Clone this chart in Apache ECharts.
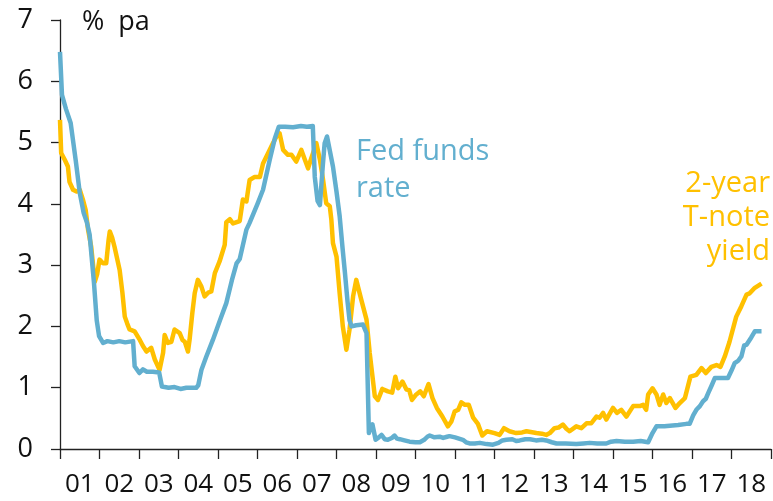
<!DOCTYPE html>
<html lang="en">
   <head>
      <meta charset="utf-8">
      <title>Fed funds rate and 2-year T-note yield</title>
      <script type="text/javascript" src="https://cdn.jsdelivr.net/npm/echarts/dist/echarts.min.js"></script>
      <style>
         html, body { margin: 0; padding: 0; background: #fff; }
      </style>
   </head>
   <body>
    <div id="main" style="width:773px; height:501px;"></div>
    <script>
        // year labels under the axis (one band per year)
        var yearLabels = ['01','02','03','04','05','06','07','08','09','10','11','12','13','14','15','16','17','18'];
        var yTicks = [0, 1, 2, 3, 4, 5, 6, 7];

        // Fed funds rate, % pa (decimal year, value)
        var fedDates = [2001.00,2001.05,2001.15,2001.27,2001.40,2001.50,2001.60,2001.68,2001.75,2001.86,2001.93,2001.99,
            2002.09,2002.20,2002.35,2002.50,2002.65,2002.85,2002.89,2003.01,2003.10,2003.20,2003.35,2003.51,2003.58,
            2003.75,2003.90,2004.05,2004.20,2004.45,2004.50,2004.58,2004.70,2004.87,2005.05,2005.21,2005.35,2005.47,
            2005.55,2005.72,2005.80,2006.00,2006.14,2006.31,2006.44,2006.54,2006.70,2006.90,2007.10,2007.25,2007.40,
            2007.45,2007.52,2007.58,2007.65,2007.70,2007.76,2007.91,2008.00,2008.08,2008.15,2008.21,2008.28,2008.33,
            2008.38,2008.50,2008.67,2008.76,2008.82,2008.86,2008.91,2008.99,2009.07,2009.14,2009.22,2009.30,2009.40,
            2009.47,2009.53,2009.60,2009.72,2009.85,2010.00,2010.11,2010.22,2010.30,2010.36,2010.48,2010.61,2010.70,
            2010.74,2010.80,2010.86,2011.00,2011.10,2011.20,2011.28,2011.37,2011.50,2011.63,2011.80,2011.96,2012.10,
            2012.20,2012.30,2012.45,2012.55,2012.64,2012.78,2012.90,2013.05,2013.20,2013.31,2013.45,2013.57,2013.80,
            2014.07,2014.25,2014.41,2014.60,2014.83,2014.95,2015.09,2015.30,2015.51,2015.70,2015.89,2016.00,2016.10,
            2016.30,2016.44,2016.65,2016.86,2016.94,2017.03,2017.11,2017.20,2017.28,2017.35,2017.41,2017.50,2017.58,
            2017.75,2017.91,2018.00,2018.08,2018.17,2018.25,2018.32,2018.38,2018.50,2018.59,2018.76];
        var fedRates = [6.48,5.78,5.55,5.32,4.70,4.18,3.85,3.70,3.50,2.71,2.10,1.84,
            1.73,1.76,1.74,1.76,1.74,1.76,1.35,1.24,1.30,1.26,1.26,1.25,1.02,
            1.00,1.01,0.98,1.00,1.00,1.04,1.29,1.50,1.78,2.10,2.38,2.75,3.03,
            3.10,3.58,3.69,4.00,4.23,4.72,5.07,5.26,5.26,5.25,5.27,5.26,5.27,
            4.44,4.05,3.98,4.60,4.99,5.10,4.61,4.20,3.80,3.30,2.90,2.40,2.10,
            2.00,2.02,2.03,1.89,0.26,0.35,0.40,0.15,0.19,0.23,0.16,0.15,0.18,
            0.22,0.17,0.16,0.14,0.12,0.11,0.11,0.15,0.20,0.22,0.19,0.20,0.18,
            0.15,0.20,0.21,0.19,0.17,0.15,0.11,0.09,0.09,0.10,0.08,0.07,0.10,
            0.14,0.15,0.16,0.13,0.14,0.16,0.16,0.14,0.15,0.14,0.11,0.09,0.09,
            0.08,0.09,0.10,0.09,0.09,0.12,0.13,0.12,0.12,0.13,0.11,0.26,0.37,
            0.37,0.38,0.39,0.41,0.41,0.55,0.64,0.70,0.78,0.82,0.91,1.04,1.16,
            1.16,1.16,1.28,1.40,1.44,1.51,1.69,1.70,1.82,1.92,1.92];

        // 2-year T-note yield, % pa
        var noteDates = [2001.00,2001.03,2001.12,2001.20,2001.24,2001.33,2001.42,2001.50,2001.58,2001.65,2001.71,2001.79,
            2001.88,2001.94,2002.00,2002.09,2002.17,2002.23,2002.26,2002.32,2002.38,2002.51,2002.58,2002.64,2002.70,
            2002.76,2002.89,2003.02,2003.10,2003.19,2003.31,2003.40,2003.52,2003.61,2003.65,2003.73,2003.82,2003.90,
            2004.03,2004.10,2004.16,2004.24,2004.28,2004.35,2004.41,2004.49,2004.58,2004.66,2004.75,2004.83,2004.92,
            2005.04,2005.17,2005.21,2005.30,2005.38,2005.55,2005.63,2005.72,2005.80,2005.93,2006.06,2006.14,2006.27,
            2006.39,2006.48,2006.56,2006.65,2006.77,2006.86,2006.98,2007.11,2007.20,2007.28,2007.36,2007.49,2007.58,
            2007.66,2007.74,2007.83,2007.87,2007.91,2008.00,2008.08,2008.16,2008.25,2008.33,2008.42,2008.50,2008.63,
            2008.76,2008.84,2008.97,2009.05,2009.16,2009.30,2009.41,2009.49,2009.56,2009.67,2009.77,2009.84,2009.91,
            2010.02,2010.12,2010.21,2010.33,2010.43,2010.54,2010.68,2010.82,2010.91,2010.99,2011.08,2011.16,2011.25,
            2011.35,2011.46,2011.58,2011.69,2011.81,2012.00,2012.13,2012.24,2012.38,2012.55,2012.70,2012.81,2013.06,
            2013.20,2013.31,2013.40,2013.52,2013.62,2013.73,2013.82,2013.90,2014.07,2014.20,2014.33,2014.45,2014.58,
            2014.66,2014.75,2014.83,2015.00,2015.10,2015.21,2015.34,2015.51,2015.68,2015.76,2015.84,2015.89,2016.00,
            2016.10,2016.18,2016.27,2016.35,2016.44,2016.58,2016.69,2016.82,2016.96,2017.11,2017.24,2017.35,2017.49,
            2017.62,2017.72,2017.83,2017.95,2018.12,2018.25,2018.38,2018.46,2018.59,2018.76];
        var noteYields = [5.37,4.83,4.72,4.61,4.36,4.23,4.20,4.23,4.07,3.90,3.58,3.30,
            2.73,2.85,3.09,3.03,3.03,3.41,3.55,3.45,3.30,2.92,2.55,2.16,2.05,
            1.95,1.92,1.78,1.68,1.59,1.65,1.46,1.29,1.57,1.86,1.73,1.75,1.95,
            1.89,1.78,1.75,1.59,1.78,2.22,2.54,2.76,2.65,2.49,2.55,2.57,2.87,
            3.06,3.33,3.70,3.75,3.68,3.72,4.07,4.04,4.39,4.44,4.44,4.66,4.83,
            4.99,5.10,5.15,4.88,4.80,4.80,4.69,4.88,4.72,4.58,4.74,4.99,4.72,
            4.39,4.01,3.96,3.74,3.36,3.14,2.54,2.00,1.62,1.95,2.49,2.76,2.43,
            2.11,1.57,0.86,0.80,0.98,0.94,0.92,1.18,0.99,1.10,0.97,0.96,0.80,
            0.89,0.94,0.86,1.06,0.83,0.67,0.53,0.37,0.45,0.61,0.64,0.76,0.72,
            0.72,0.51,0.41,0.22,0.29,0.26,0.23,0.34,0.29,0.26,0.27,0.29,0.26,
            0.25,0.23,0.26,0.34,0.35,0.40,0.33,0.29,0.37,0.34,0.42,0.42,0.53,
            0.51,0.59,0.48,0.67,0.59,0.64,0.53,0.70,0.70,0.72,0.64,0.89,0.99,
            0.89,0.72,0.89,0.75,0.83,0.67,0.75,0.83,1.18,1.21,1.32,1.24,1.34,
            1.37,1.34,1.51,1.75,2.16,2.33,2.52,2.54,2.63,2.70];

        var blue = '#62afcf';
        var gold = '#ffc000';
        var font = 'Open Sans';

        function zip(xs, ys) {
            var out = [];
            for (var i = 0; i < xs.length; i++) out.push([xs[i], ys[i]]);
            return out;
        }

        var chart = echarts.init(document.getElementById('main'), null, {renderer: 'canvas'});
        chart.setOption({
            animation: false,
            backgroundColor: '#fff',
            grid: {left: 60, top: 20, right: 2, bottom: 52},
            xAxis: [{
                type: 'value',
                min: 2001,
                max: 2019,
                interval: 1,
                axisLine: {show: true, lineStyle: {color: '#222', width: 1.3}},
                axisTick: {show: true, length: 10, lineStyle: {color: '#222', width: 1.3}},
                axisLabel: {show: false},
                splitLine: {show: false}
            }, {
                type: 'category',
                position: 'bottom',
                data: yearLabels,
                boundaryGap: true,
                axisLine: {show: false},
                axisTick: {show: false},
                axisLabel: {fontFamily: font, fontSize: 26, color: '#111', margin: 23, interval: 0}
            }],
            yAxis: {
                type: 'value',
                min: yTicks[0],
                max: yTicks[yTicks.length - 1],
                interval: 1,
                axisLine: {show: true, lineStyle: {color: '#222', width: 1.3}},
                axisTick: {show: true, length: 9, lineStyle: {color: '#222', width: 1.3}},
                axisLabel: {fontFamily: font, fontSize: 27, color: '#111', margin: 27},
                splitLine: {show: false}
            },
            series: [{
                name: '2-year T-note yield',
                type: 'line',
                data: zip(noteDates, noteYields),
                showSymbol: false,
                lineStyle: {color: gold, width: 4.5, join: 'round'}
            }, {
                name: 'Fed funds rate',
                type: 'line',
                data: zip(fedDates, fedRates),
                showSymbol: false,
                lineStyle: {color: blue, width: 4.5, join: 'round'}
            }],
            graphic: [{
                type: 'text', x: 82, y: 9,
                style: {text: '%  pa', fontFamily: font, fontSize: 27, fill: '#111'}
            }, {
                type: 'text', x: 356, y: 133,
                style: {text: 'Fed funds\nrate', fontFamily: font, fontSize: 29, lineHeight: 37, fill: blue}
            }, {
                type: 'text', x: 770, y: 167,
                style: {text: '2-year\nT-note\nyield', fontFamily: font, fontSize: 29, lineHeight: 34, fill: gold, align: 'right'}
            }]
        });
    </script>
   </body>
</html>
